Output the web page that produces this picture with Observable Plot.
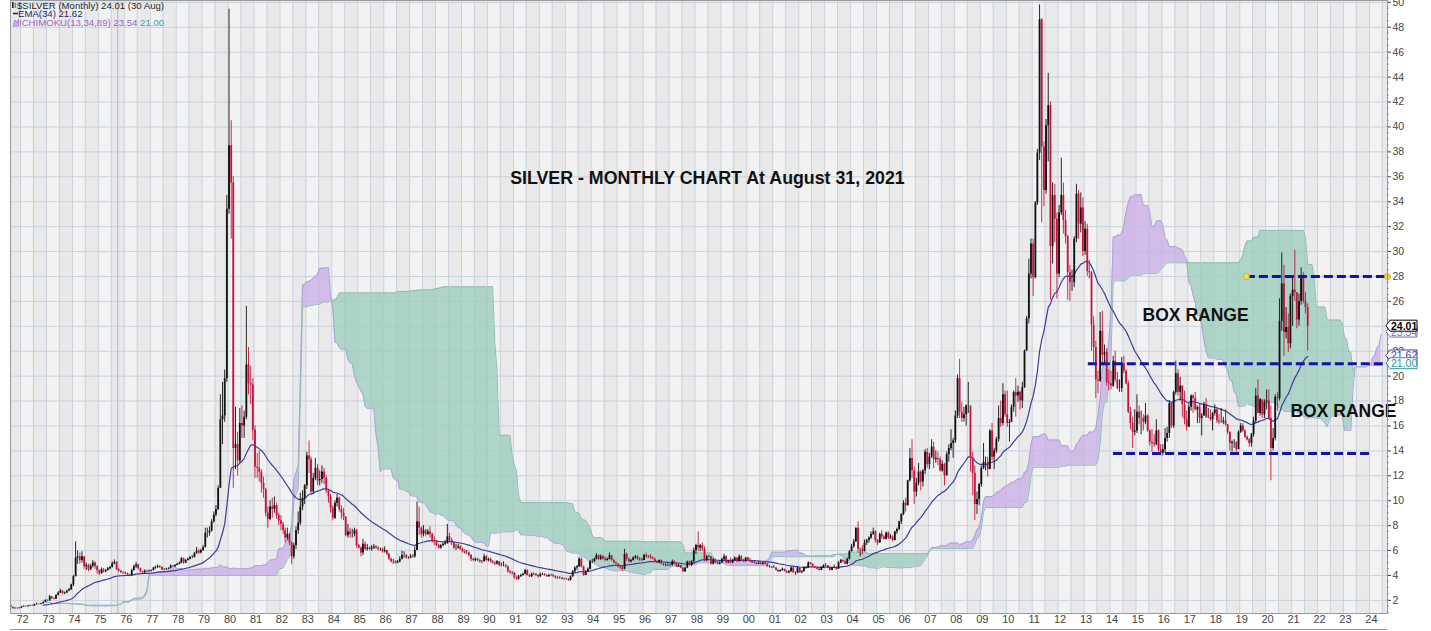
<!DOCTYPE html>
<html>
<head>
<meta charset="utf-8">
<script src="https://cdn.jsdelivr.net/npm/d3@7"></script>
<script src="https://cdn.jsdelivr.net/npm/@observablehq/plot@0.6"></script>
<style>
  html, body { margin: 0; padding: 0; background: #fff; overflow: hidden; }
  #chart { width: 1431px; height: 631px; }
</style>
</head>
<body>
<div id="chart"></div>
<script>
// Monthly bars, first one is Feb 1970 (left of the visible window, needed for the indicators)
const firstOpen = 1.84
const closes = [
  1.87,1.80,1.78,1.68,1.64,1.67,1.75,1.76,1.73,1.72,1.64,
  1.62,1.56,1.66,1.61,1.56,1.55,1.61,1.45,1.34,1.37,1.34,1.38,
  1.48,1.52,1.49,1.55,1.58,1.55,1.66,1.70,1.68,1.73,1.85,2.00,
  1.95,2.30,2.15,2.10,2.40,2.60,2.75,2.55,2.60,2.75,2.85,3.25,
  3.90,5.40,5.50,5.20,5.50,4.70,4.80,4.45,4.75,5.00,4.70,4.40,
  4.15,4.45,4.30,4.40,4.55,4.65,4.95,5.05,4.45,4.35,4.25,4.20,
  4.15,4.05,4.00,4.40,4.70,4.85,4.55,4.30,4.20,4.35,4.30,4.35,
  4.40,4.60,4.65,4.72,4.65,4.45,4.45,4.50,4.55,4.75,4.70,4.80,
  4.90,5.00,5.35,5.00,5.20,5.30,5.45,5.45,5.75,5.95,5.80,6.00,
  6.25,7.40,7.40,7.55,8.30,8.85,9.30,11.00,16.50,16.80,19.80,33.40,
  38.50,35.50,14.20,14.50,13.20,16.20,16.00,16.70,20.90,19.40,19.30,15.65,
  12.70,12.60,12.30,11.40,10.90,9.00,8.50,9.50,9.30,9.60,8.80,8.40,
  8.10,7.60,7.00,7.30,6.60,5.50,6.40,7.60,8.20,9.50,10.20,11.20,
  13.60,13.30,10.70,11.80,12.60,11.60,11.70,12.30,11.80,10.80,10.30,9.40,
  8.60,9.80,10.20,9.30,9.00,8.70,7.20,7.50,7.30,7.30,7.60,6.40,
  6.20,5.80,6.50,6.10,6.20,6.10,6.20,6.30,6.20,6.10,6.10,5.90,
  6.00,5.70,5.30,5.10,5.10,5.00,5.10,5.30,5.60,5.60,5.40,5.40,
  5.50,5.50,6.00,8.30,7.80,7.30,7.60,7.30,7.50,7.30,6.80,6.70,
  6.40,6.20,6.40,6.50,6.60,7.10,6.80,6.60,6.20,6.20,6.30,6.10,
  5.90,5.80,5.80,5.60,5.30,5.20,5.30,5.20,5.10,5.10,5.50,5.20,
  5.30,5.10,5.00,4.90,5.10,4.80,4.80,4.80,4.70,4.30,4.20,4.20,
  3.80,3.70,3.90,4.00,4.10,4.40,4.00,3.90,4.10,4.10,4.00,3.90,
  4.10,4.10,4.00,3.90,4.00,4.00,3.90,3.80,3.80,3.80,3.70,3.70,
  3.70,3.60,3.90,4.30,4.60,4.70,5.30,4.70,4.00,4.30,4.50,5.10,
  5.10,5.30,5.60,5.30,5.50,5.30,5.20,5.30,5.60,5.20,5.00,4.90,
  4.70,4.60,4.50,5.70,5.30,5.10,5.20,5.40,5.50,5.30,5.30,5.20,
  5.60,5.50,5.50,5.40,5.30,5.10,5.00,5.20,4.90,4.80,4.80,4.80,
  4.80,5.10,4.90,4.70,4.80,4.60,4.30,4.60,5.10,4.80,5.10,6.00,
  6.40,6.20,6.40,6.10,5.20,5.50,5.50,4.90,5.20,5.00,4.90,5.00,
  5.30,5.50,5.00,5.10,5.00,5.20,5.40,5.10,5.50,5.20,5.10,5.40,
  5.20,5.10,5.00,5.00,4.90,5.00,4.90,5.00,4.90,4.70,4.70,4.60,
  4.60,4.40,4.30,4.40,4.50,4.30,4.20,4.30,4.60,4.20,4.20,4.60,
  4.20,4.30,4.60,4.60,5.00,4.90,4.70,4.60,4.50,4.40,4.60,4.80,
  4.80,4.60,4.40,4.60,4.60,4.50,5.00,5.20,5.10,4.90,5.30,5.90,
  6.30,6.70,7.80,6.10,6.10,5.90,6.60,6.80,7.00,7.30,7.50,6.80,
  6.60,7.30,7.10,6.90,7.40,7.00,7.10,6.80,7.50,7.70,8.30,8.90,
  9.80,9.60,11.60,13.40,12.40,10.70,11.40,12.30,11.50,12.40,13.90,12.90,
  13.50,14.30,13.30,13.40,13.30,12.40,12.90,12.00,13.70,14.20,14.60,14.80,
  16.80,19.80,17.10,16.60,16.90,17.60,17.60,13.40,12.20,9.70,10.10,11.30,
  12.60,13.10,13.10,12.50,15.60,13.50,14.00,14.90,16.60,16.20,18.50,16.90,
  16.20,16.30,17.50,18.70,18.40,18.70,18.00,19.10,22.00,24.60,28.20,30.60,
  27.90,33.90,37.90,48.60,38.40,34.90,40.10,41.70,30.40,34.50,32.60,28.20,
  33.10,34.50,32.50,31.20,28.30,27.50,27.50,31.00,34.60,32.20,33.50,30.00,
  31.80,28.40,28.30,24.10,22.30,19.70,19.60,23.60,21.70,21.90,19.50,19.40,
  19.20,21.20,19.70,19.00,19.00,21.00,20.40,19.40,17.10,16.20,15.50,15.60,
  17.10,16.60,16.60,16.30,16.80,15.60,14.70,14.60,14.50,15.60,14.10,13.80,
  14.10,15.00,15.40,17.80,16.00,18.70,20.20,18.70,19.20,17.70,16.50,15.90,
  17.50,18.40,18.20,17.30,17.50,16.60,16.80,17.70,16.70,16.70,16.50,17.00,
  17.30,16.40,16.30,16.30,16.40,16.10,15.50,14.60,14.70,14.70,14.10,15.50,
  16.00,15.60,15.10,14.90,14.60,15.30,16.40,18.40,17.00,18.10,16.90,17.90,
  18.00,16.60,14.20,15.00,18.30,18.20,24.40,27.40,23.50,23.90,22.60,26.40,
  26.90,26.70,24.50,26.00,27.90,26.00,25.50,24.01
]
const highs = [
  1.92,1.90,1.84,1.80,1.70,1.70,1.78,1.82,1.79,1.76,1.74,
  1.67,1.64,1.70,1.70,1.63,1.59,1.65,1.63,1.47,1.40,1.39,1.41,
  1.51,1.56,1.55,1.58,1.62,1.62,1.70,1.78,1.72,1.76,1.88,2.05,
  2.05,2.40,2.32,2.22,2.48,2.70,2.90,2.80,2.68,2.82,2.98,3.30,
  4.00,6.70,5.95,5.80,5.90,5.50,5.00,4.90,4.90,5.20,5.10,4.80,
  4.45,4.60,4.55,4.50,4.65,4.75,5.10,5.25,5.10,4.55,4.40,4.30,
  4.30,4.20,4.10,4.50,4.85,5.05,4.90,4.60,4.35,4.45,4.42,4.45,
  4.45,4.65,4.75,4.85,4.80,4.70,4.55,4.58,4.62,4.85,4.82,4.88,
  4.98,5.08,5.45,5.40,5.30,5.40,5.55,5.60,5.85,6.25,6.10,6.10,
  6.40,7.80,7.80,7.90,8.50,9.10,9.60,11.20,18.50,19.50,20.50,34.50,
  49.45,40.50,36.00,17.50,15.50,17.40,17.60,17.20,25.60,22.30,20.80,19.80,
  16.00,13.80,14.00,12.50,11.90,11.00,9.50,10.00,10.20,10.30,9.80,9.00,
  8.80,8.30,7.80,7.80,7.40,6.70,6.60,7.90,9.10,10.60,10.80,11.30,
  13.90,14.80,13.50,12.20,13.40,12.90,12.40,12.80,12.60,12.00,10.90,10.50,
  9.60,10.00,10.50,10.30,9.60,9.40,8.70,8.10,7.80,7.70,7.80,7.70,
  6.50,6.30,6.90,6.70,6.50,6.30,6.40,6.50,6.40,6.30,6.20,6.20,
  6.30,6.00,5.80,5.40,5.30,5.20,5.20,5.50,5.95,5.90,5.70,5.50,
  5.70,5.65,6.30,9.90,9.50,7.90,8.00,7.70,7.70,7.90,7.40,7.10,
  6.80,6.50,6.50,6.60,6.80,8.10,7.40,7.00,6.70,6.50,6.50,6.40,
  6.20,6.10,6.00,5.90,5.70,5.40,5.40,5.40,5.30,5.20,5.70,5.60,
  5.40,5.40,5.20,5.10,5.20,5.10,5.00,5.10,4.90,4.75,4.40,4.30,
  4.20,3.95,4.00,4.10,4.20,4.50,4.45,4.10,4.20,4.20,4.15,4.05,
  4.20,4.20,4.15,4.05,4.10,4.10,4.10,3.95,3.90,3.90,3.85,3.80,
  3.75,3.75,3.95,4.40,4.70,4.80,5.45,5.40,4.75,4.40,4.60,5.20,
  5.30,5.40,5.75,5.65,5.65,5.60,5.50,5.40,5.80,5.60,5.30,5.10,
  4.95,4.75,4.75,6.10,5.80,5.40,5.30,5.50,5.60,5.60,5.40,5.40,
  5.70,5.80,5.60,5.70,5.50,5.40,5.20,5.25,5.25,5.00,4.95,4.95,
  4.90,5.25,5.20,5.00,4.90,4.80,4.60,4.65,5.15,5.15,5.20,6.20,
  6.50,7.50,6.50,6.60,6.30,5.60,5.60,5.50,5.40,5.30,5.15,5.10,
  5.40,5.70,5.60,5.20,5.40,5.30,5.50,5.40,5.65,5.60,5.30,5.45,
  5.45,5.40,5.20,5.10,5.05,5.10,5.10,5.05,5.05,4.95,4.80,4.70,
  4.80,4.65,4.50,4.45,4.60,4.50,4.40,4.40,4.70,4.70,4.30,4.65,
  4.60,4.40,4.70,4.70,5.10,5.05,4.95,4.70,4.65,4.55,4.70,4.85,
  4.95,4.80,4.70,4.65,4.85,4.70,5.10,5.30,5.30,5.20,5.40,6.00,
  6.50,6.90,7.80,8.30,6.20,6.40,6.85,6.90,7.10,7.50,7.80,7.60,
  6.90,7.40,7.60,7.20,7.50,7.50,7.30,7.20,7.55,7.80,8.35,8.95,
  10.00,10.20,11.65,14.20,14.90,12.70,11.80,13.00,12.40,12.50,14.10,14.20,
  13.80,14.90,14.70,14.00,13.90,13.50,13.20,13.00,13.90,14.50,15.70,15.00,
  17.20,20.10,21.35,17.90,17.50,17.70,19.50,17.60,13.90,12.80,10.70,11.40,
  12.80,14.60,13.50,13.50,15.70,16.20,14.20,15.10,17.60,18.00,19.40,18.80,
  18.80,16.50,17.70,18.80,19.80,19.20,18.80,19.50,22.10,24.80,29.40,31.00,
  31.00,34.00,38.20,49.80,48.70,38.80,40.60,44.30,42.00,35.50,35.40,33.10,
  33.70,37.50,35.50,33.30,31.30,28.90,28.50,31.20,35.40,34.90,34.70,34.30,
  32.40,32.20,29.30,28.40,24.80,22.80,20.40,25.10,25.20,22.50,22.20,20.50,
  20.40,21.60,22.00,20.30,19.70,21.50,21.60,20.50,19.60,17.50,16.70,17.30,
  18.50,17.60,17.20,16.90,17.80,16.90,15.70,15.70,15.30,16.50,15.70,14.50,
  14.50,15.80,15.90,18.00,17.80,18.80,21.20,20.50,19.90,19.20,18.80,17.20,
  17.80,18.50,18.50,18.70,17.60,17.80,17.00,17.90,18.20,17.40,17.30,17.10,
  17.70,17.40,16.90,17.40,16.70,17.30,16.10,15.50,14.80,14.90,14.70,15.60,
  16.20,16.20,15.70,15.20,15.00,15.40,16.70,19.00,19.70,18.20,18.00,18.10,
  18.90,18.90,17.60,15.80,18.50,18.70,26.20,29.90,28.90,25.50,25.00,26.60,
  27.90,30.10,26.70,26.60,28.70,28.30,26.70,25.80
]
const lows = [
  1.80,1.76,1.74,1.62,1.60,1.60,1.65,1.71,1.70,1.66,1.60,
  1.58,1.53,1.54,1.58,1.53,1.51,1.53,1.40,1.30,1.31,1.30,1.32,
  1.36,1.45,1.46,1.47,1.52,1.51,1.53,1.63,1.63,1.65,1.71,1.83,
  1.90,1.94,2.08,2.05,2.08,2.35,2.55,2.45,2.45,2.55,2.70,2.80,
  3.10,3.90,4.90,4.90,5.00,4.50,4.40,4.30,4.40,4.60,4.50,4.10,
  4.00,4.10,4.20,4.20,4.35,4.45,4.60,4.85,4.40,4.25,4.15,4.10,
  4.05,3.98,3.90,3.95,4.35,4.55,4.45,4.22,4.15,4.15,4.22,4.25,
  4.28,4.35,4.50,4.55,4.55,4.40,4.38,4.40,4.45,4.52,4.62,4.65,
  4.80,4.85,4.95,4.90,4.95,5.15,5.25,5.35,5.40,5.70,5.70,5.75,
  5.95,6.20,7.00,7.15,7.50,8.20,8.70,9.20,11.00,14.50,16.30,19.50,
  33.00,31.00,11.00,12.50,12.00,13.00,15.00,15.00,16.50,18.50,17.70,14.80,
  11.80,11.80,11.50,10.60,10.20,8.70,7.80,8.40,8.60,9.00,8.50,8.00,
  7.60,7.30,6.60,6.80,6.40,4.90,5.30,6.10,7.30,8.00,9.20,9.70,
  10.90,12.20,10.50,10.50,11.60,11.20,11.20,11.40,11.30,10.60,9.80,9.00,
  8.40,8.50,9.50,9.10,8.50,8.40,7.10,7.00,7.00,7.00,7.10,6.20,
  6.10,5.50,5.60,6.00,5.95,6.00,5.95,6.10,6.10,5.95,5.95,5.80,
  5.80,5.60,5.20,5.00,4.90,4.90,4.95,5.00,5.25,5.40,5.30,5.30,
  5.35,5.40,5.40,6.00,7.20,7.00,7.10,7.10,7.20,7.00,6.60,6.40,
  6.30,6.10,6.10,6.30,6.40,6.50,6.70,6.40,6.10,6.00,6.10,6.00,
  5.80,5.70,5.70,5.50,5.10,5.10,5.10,5.10,5.00,4.95,5.10,5.10,
  5.10,5.00,4.90,4.80,4.85,4.70,4.70,4.70,4.60,4.20,4.10,4.05,
  3.70,3.60,3.65,3.85,3.95,4.05,3.95,3.85,3.85,4.00,3.90,3.80,
  3.85,4.00,3.95,3.85,3.85,3.95,3.85,3.70,3.70,3.70,3.65,3.62,
  3.62,3.52,3.55,3.85,4.20,4.40,4.65,4.60,3.95,4.00,4.25,4.45,
  4.95,5.05,5.25,5.20,5.20,5.25,5.10,5.15,5.25,5.15,4.95,4.85,
  4.60,4.50,4.35,4.45,5.15,5.00,5.00,5.15,5.30,5.20,5.15,5.10,
  5.20,5.40,5.40,5.30,5.25,5.05,4.95,4.95,4.85,4.75,4.70,4.70,
  4.70,4.75,4.85,4.65,4.65,4.55,4.25,4.25,4.55,4.75,4.70,5.00,
  5.70,5.90,5.90,5.90,5.10,5.10,5.40,4.85,4.85,4.95,4.85,4.85,
  5.00,5.20,4.95,4.95,4.95,4.95,5.15,5.05,5.10,5.15,5.05,5.10,
  5.15,5.05,5.00,4.95,4.85,4.90,4.85,4.85,4.85,4.65,4.60,4.55,
  4.55,4.35,4.25,4.25,4.35,4.30,4.15,4.15,4.25,4.20,4.01,4.15,
  4.20,4.20,4.30,4.50,4.60,4.85,4.65,4.55,4.45,4.35,4.40,4.55,
  4.70,4.55,4.35,4.40,4.55,4.40,4.55,4.95,5.00,4.85,4.85,5.25,
  5.90,6.20,6.65,5.80,5.50,5.65,5.90,6.40,6.60,6.90,7.20,6.60,
  6.40,6.60,6.90,6.85,6.85,6.90,6.90,6.70,6.80,7.30,7.60,8.10,
  8.80,9.10,9.60,11.50,11.80,9.70,10.30,11.20,10.80,11.10,12.10,12.60,
  12.50,13.40,12.60,13.00,12.80,12.30,12.30,11.20,12.00,13.10,14.00,13.40,
  14.60,16.60,16.60,16.30,16.30,16.00,17.00,12.30,10.40,8.40,8.90,9.60,
  11.10,12.50,12.40,11.90,12.50,13.20,12.50,13.80,14.70,15.90,16.00,16.70,
  15.90,14.70,16.30,17.10,16.70,17.90,17.30,17.40,19.00,22.10,24.20,27.80,
  26.40,27.80,33.70,37.30,32.30,33.60,34.60,37.20,26.10,29.00,30.70,26.20,
  27.90,32.90,31.40,30.60,26.10,26.00,26.80,27.10,30.70,31.00,31.50,29.60,
  29.70,28.00,27.80,22.00,21.10,18.20,18.60,19.50,20.80,20.90,19.20,18.80,
  18.90,19.10,19.50,18.90,18.70,18.70,20.20,19.30,17.00,15.70,14.20,15.20,
  15.40,16.10,15.30,15.60,16.10,15.50,14.40,13.90,14.30,14.40,13.90,13.60,
  13.60,13.80,14.70,15.00,15.80,15.80,18.50,18.40,18.00,16.70,16.10,15.60,
  15.90,17.20,17.00,17.20,16.20,16.20,15.20,16.80,16.60,16.60,16.40,15.60,
  16.80,16.20,16.10,16.20,16.10,16.00,15.30,14.00,13.90,14.20,13.90,14.10,
  15.40,15.50,15.00,14.80,14.30,14.30,15.10,16.20,17.00,16.80,16.60,16.60,
  17.30,16.50,11.60,14.00,14.80,17.20,18.00,23.60,21.60,23.00,21.90,22.20,
  24.00,26.00,23.80,24.00,25.70,25.80,25.00,22.00
]

const yearLabels = ["72","73","74","75","76","77","78","79","80","81","82","83","84","85","86","87","88","89","90","91","92","93","94","95","96","97","98","99","00","01","02","03","04","05","06","07","08","09","10","11","12","13","14","15","16","17","18","19","20","21","22","23","24"]
const yTicks = [2,4,6,8,10,12,14,16,18,20,22,24,26,28,30,32,34,36,38,40,42,44,46,48,50]

// annotations drawn on the chart
const levelValues = [28.0, 21.0, 13.8]
const levelStarts = ["2019-04-05", "2013-03-01", "2014-02-20"]
const levelEnds = ["2024-09-12", "2024-09-12", "2024-02-13"]
const dotDates = ["2019-04-05", "2024-09-12"]
const dotValues = [28.0, 28.0]
const titleText = "SILVER - MONTHLY CHART At August 31, 2021"
const boxTexts = ["BOX RANGE", "BOX RANGE"]
const boxDates = ["2017-04-20", "2023-01-01"]
const boxValues = [24.87, 17.16]
const tagValues = [23.54, 24.01, 21.62, 21.00]
const tagColors = ["#7a6fb0", "#000000", "#3f3f9c", "#2f9490"]
const markerDate = "1975-10-01"

const xDomain = [new Date(Date.UTC(1971, 7, 13)), new Date(Date.UTC(2024, 8, 12))]
const yDomain = [0.95, 50.15]
const monthDate = i => new Date(Date.UTC(1970, 1 + i, 15))

const bars = closes.map((c, i) => ({
  date: monthDate(i),
  open: i ? closes[i - 1] : firstOpen,
  close: c, high: highs[i], low: lows[i]
})).filter(d => d.date >= xDomain[0])
const upBars = bars.filter(d => d.close >= d.open)
const downBars = bars.filter(d => d.close < d.open)

// EMA(34)
const k = 2 / 35
let ema = d3.mean(closes.slice(0, 34))
const emaRows = [{date: monthDate(33), value: ema}]
for (let i = 34; i < closes.length; i++) {
  ema = closes[i] * k + ema * (1 - k)
  emaRows.push({date: monthDate(i), value: ema})
}

// Ichimoku(13,34,89) cloud, pushed forward 34 months
const mid = (i, n) => {
  const s = Math.max(0, i - n + 1)
  return (d3.max(highs.slice(s, i + 1)) + d3.min(lows.slice(s, i + 1))) / 2
}
const cloud = closes.map((c, i) => ({
  date: monthDate(i + 34),
  a: (mid(i, 13) + mid(i, 34)) / 2,
  b: mid(i, 89)
}))

// half-year background bands and grid
const halfYears = d3.utcMonth.every(6).range(new Date(Date.UTC(1971, 0, 1)), new Date(Date.UTC(2025, 0, 1)))
const clampX = d => d < xDomain[0] ? xDomain[0] : d > xDomain[1] ? xDomain[1] : d
const darkBands = halfYears.filter(d => d.getUTCMonth() === 6)
const gridX = halfYears.filter(d => d > xDomain[0] && d < xDomain[1])

const levels = levelValues.map((v, i) => ({value: v, start: new Date(levelStarts[i]), end: new Date(levelEnds[i])}))
const dots = dotValues.map((v, i) => ({value: v, date: new Date(dotDates[i])}))
const boxes = boxTexts.map((t, i) => ({text: t, date: new Date(boxDates[i]), value: boxValues[i]}))

const chart = Plot.plot({
  width: 1431,
  height: 631,
  marginTop: 0,
  marginBottom: 18,
  marginLeft: 10,
  marginRight: 44,
  style: {fontFamily: "Liberation Sans, Arial, sans-serif", fontSize: "10.5px", color: "#444", background: "#ffffff"},
  x: {type: "utc", domain: xDomain, axis: null},
  y: {domain: yDomain, axis: "right", ticks: yTicks, tickSize: 3, tickPadding: 2, tickFormat: d => d, label: null},
  marks: [
    Plot.frame({fill: "#f2f2f2"}),
    Plot.rect(darkBands, {x1: d => clampX(d), x2: d => clampX(d3.utcMonth.offset(d, 6)), y1: yDomain[0], y2: yDomain[1], fill: "#e9e9e9"}),
    Plot.ruleX(gridX, {stroke: "#c9d1dd", strokeWidth: 1}),
    Plot.ruleY(yTicks, {stroke: "#c9d1dd", strokeWidth: 1}),
    Plot.ruleX([new Date(markerDate)], {stroke: "#c6aee6", strokeWidth: 1.2}),
    // cloud: purple when span A is above span B, green otherwise
    Plot.areaY(cloud, {x: "date", y1: "b", y2: d => Math.max(d.a, d.b), fill: "#c9b0e6", fillOpacity: 0.8}),
    Plot.areaY(cloud, {x: "date", y1: "a", y2: d => Math.max(d.a, d.b), fill: "#9ccdbd", fillOpacity: 0.8}),
    Plot.line(cloud, {x: "date", y: "a", stroke: "#a9a3da", strokeWidth: 1}),
    Plot.line(cloud, {x: "date", y: "b", stroke: "#8ebdb5", strokeWidth: 1}),
    Plot.line(emaRows, {x: "date", y: "value", stroke: "#3c3c9c", strokeWidth: 1.2}),
    // candles
    Plot.ruleX(upBars, {x: "date", y1: "low", y2: "high", stroke: "#111", strokeWidth: 0.9}),
    Plot.ruleX(downBars, {x: "date", y1: "low", y2: "high", stroke: "#c4143e", strokeWidth: 0.9}),
    Plot.ruleX(upBars, {x: "date", y1: "open", y2: "close", stroke: "#111", strokeWidth: 1.8}),
    Plot.ruleX(downBars, {x: "date", y1: "open", y2: "close", stroke: "#c4143e", strokeWidth: 1.8}),
    // box range annotation lines
    Plot.ruleY(levels, {y: "value", x1: "start", x2: "end", stroke: "#1414a3", strokeWidth: 3, strokeDasharray: "9,4"}),
    Plot.dot(dots, {x: "date", y: "value", r: 3, fill: "#f4e04d", stroke: "#c9a900", strokeWidth: 0.8}),
    Plot.text([titleText], {x: new Date("1998-06-25"), y: 35.86, text: d => d, fontSize: 17.8, fontWeight: "bold", fill: "#111"}),
    Plot.text(boxes, {x: "date", y: "value", text: "text", fontSize: 17.5, fontWeight: "bold", fill: "#111"}),
    Plot.text(yearLabels, {x: (d, i) => new Date(Date.UTC(1972 + i, 0, 1)), frameAnchor: "bottom", dy: 9, dx: 2, text: d => d, fontSize: 11, fill: "#444"}),
    Plot.frame({stroke: "#9a9a9a"})
  ]
})

const svg = d3.select(chart)
const y = chart.scale("y")
const right = 1431 - 44

// minor ticks on the price axis
svg.append("g").attr("stroke", "#777").attr("stroke-width", 0.6)
  .selectAll("line").data(d3.range(1, 50.01, 0.5)).join("line")
  .attr("x1", right).attr("x2", right + 2)
  .attr("y1", d => y.apply(d)).attr("y2", d => y.apply(d))

// last-value tags
const tags = svg.append("g").attr("font-family", "Liberation Sans, Arial, sans-serif")
  .attr("font-size", 10.5).attr("text-anchor", "start")
tagValues.forEach((v, i) => {
  const yy = y.apply(v)
  tags.append("path")
    .attr("d", `M${right - 1},${yy} L${right + 3},${yy - 5.5} L${right + 30},${yy - 5.5} L${right + 30},${yy + 5.5} L${right + 3},${yy + 5.5} Z`)
    .attr("fill", "#fff").attr("stroke", tagColors[i]).attr("stroke-width", 1)
  tags.append("text").attr("x", right + 4).attr("y", yy + 4)
    .attr("fill", tagColors[i]).attr("font-weight", i === 1 ? "bold" : "normal")
    .text(v.toFixed(2))
})

// legend in the top-left corner
const leg = svg.append("g").attr("font-family", "Liberation Sans, Arial, sans-serif")
  .attr("font-size", 9.6).attr("text-anchor", "start")
leg.append("rect").attr("x", 12).attr("y", 2).attr("width", 1.6).attr("height", 6).attr("fill", "#222")
leg.append("rect").attr("x", 14.5).attr("y", 3).attr("width", 1.6).attr("height", 5).attr("fill", "#888")
leg.append("text").attr("x", 17).attr("y", 9).attr("fill", "#1e1e1e").text("$SILVER (Monthly) 24.01 (30 Aug)")
leg.append("line").attr("x1", 13).attr("x2", 18).attr("y1", 13.5).attr("y2", 13.5).attr("stroke", "#23236e").attr("stroke-width", 1.6)
leg.append("text").attr("x", 18).attr("y", 17).attr("fill", "#23236e").text("EMA(34) 21.62")
leg.append("path").attr("d", "M13,26 L15,20 L17,23 L18.5,19 L18.5,26 Z").attr("fill", "#c9b0e6").attr("stroke", "#9467c4").attr("stroke-width", 0.6)
const l3 = leg.append("text").attr("x", 19).attr("y", 25.5)
l3.append("tspan").attr("fill", "#9467c4").text("ICHIMOKU(13,34,89) 23.54 ")
l3.append("tspan").attr("fill", "#3aa6a0").text("21.00")

// top edge of the volume panel below
svg.append("line").attr("x1", 10).attr("x2", right).attr("y1", 629.5).attr("y2", 629.5).attr("stroke", "#9a9a9a")

document.getElementById("chart").append(chart)
</script>
</body>
</html>
